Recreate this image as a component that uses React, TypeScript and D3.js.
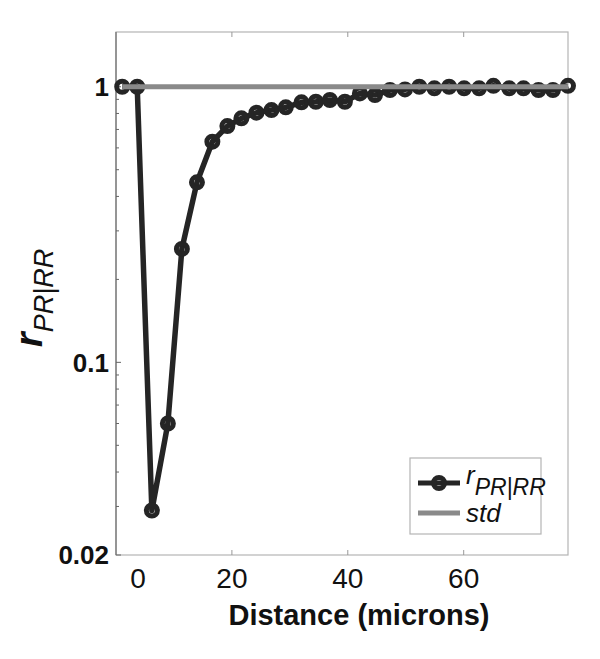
import { useEffect, useRef } from "react";
import * as d3 from "d3";

// distance (microns) and r_PR|RR
const distance = [
  1.07, 3.66, 6.19, 8.95, 11.37, 13.97, 16.63, 19.22, 21.64, 24.24, 26.83,
  29.3, 32.01, 34.49, 36.91, 39.5, 42.09, 44.69, 47.28, 49.87, 52.34, 54.94,
  57.48, 60.07, 62.66, 65.13, 67.85, 70.32, 72.91, 75.4, 78.0,
];
const rValues = [
  1.0, 1.0, 0.029, 0.06, 0.258, 0.45, 0.632, 0.72, 0.768, 0.805, 0.823, 0.842,
  0.878, 0.882, 0.895, 0.882, 0.946, 0.933, 0.973, 0.978, 1.0, 0.987, 1.0,
  0.987, 0.987, 1.008, 0.987, 0.987, 0.973, 0.973, 1.008,
];
const stdValue = 1;
const xTicks = [0, 20, 40, 60];
const yTicks = [0.02, 0.1, 1];
const yMinorTicks = [0.03, 0.04, 0.05, 0.06, 0.07, 0.08, 0.09, 0.2, 0.3, 0.4, 0.5, 0.6, 0.7, 0.8, 0.9];

function RatioChart() {
  const ref = useRef<SVGSVGElement>(null);

  useEffect(() => {
    const width = 600;
    const height = 659;
    const margin = { top: 32, right: 32, bottom: 104, left: 116 };
    const innerW = width - margin.left - margin.right;
    const innerH = height - margin.top - margin.bottom;
    const font = "Liberation Sans, Arial, sans-serif";

    const svg = d3.select(ref.current);
    svg.selectAll("*").remove();

    const g = svg
      .append("g")
      .attr("transform", `translate(${margin.left},${margin.top})`);

    const x = d3.scaleLinear().domain([0, 78]).range([0, innerW]);
    const y = d3.scaleLog().domain([0.02, 1.58]).range([innerH, 0]);

    // box
    g.append("rect")
      .attr("width", innerW)
      .attr("height", innerH)
      .attr("fill", "white")
      .attr("stroke", "#b4b4b4")
      .attr("stroke-width", 1.2);

    // left axis line a bit darker
    g.append("line")
      .attr("y1", 0)
      .attr("y2", innerH)
      .attr("stroke", "#808080")
      .attr("stroke-width", 1.5);

    // x ticks (inward, top and bottom)
    const xt = xTicks.filter((t) => t > 0);
    g.selectAll(".xtb")
      .data(xt)
      .enter()
      .append("line")
      .attr("x1", (d) => x(d))
      .attr("x2", (d) => x(d))
      .attr("y1", innerH)
      .attr("y2", innerH - 5)
      .attr("stroke", "#999");
    g.selectAll(".xtt")
      .data(xt)
      .enter()
      .append("line")
      .attr("x1", (d) => x(d))
      .attr("x2", (d) => x(d))
      .attr("y1", 0)
      .attr("y2", 5)
      .attr("stroke", "#999");

    // x tick labels; the "0" label sits off the y axis like in the source
    g.selectAll(".xl")
      .data(xTicks)
      .enter()
      .append("text")
      .attr("x", (d) => x(d) + (d === 0 ? 22 : 0))
      .attr("y", innerH + 33)
      .attr("text-anchor", "middle")
      .attr("font-family", font)
      .attr("font-size", 28)
      .attr("fill", "#111")
      .text((d) => d3.format("d")(d));

    // y ticks
    g.selectAll(".ytm")
      .data(yTicks)
      .enter()
      .append("line")
      .attr("x1", 0)
      .attr("x2", 5)
      .attr("y1", (d) => y(d))
      .attr("y2", (d) => y(d))
      .attr("stroke", "#666");
    g.selectAll(".ytn")
      .data(yMinorTicks)
      .enter()
      .append("line")
      .attr("x1", 0)
      .attr("x2", 3)
      .attr("y1", (d) => y(d))
      .attr("y2", (d) => y(d))
      .attr("stroke", "#666");

    g.selectAll(".yl")
      .data(yTicks)
      .enter()
      .append("text")
      .attr("x", -7)
      .attr("y", (d) => y(d))
      .attr("dy", "0.36em")
      .attr("text-anchor", "end")
      .attr("font-family", font)
      .attr("font-weight", "bold")
      .attr("font-size", 26)
      .attr("fill", "#111")
      .text((d) => String(d));

    // data line + markers
    const pts = distance.map((d, i) => [d, rValues[i]] as [number, number]);
    const line = d3
      .line<[number, number]>()
      .x((d) => x(d[0]))
      .y((d) => y(d[1]));

    g.append("path")
      .datum(pts)
      .attr("d", line)
      .attr("fill", "none")
      .attr("stroke", "#252525")
      .attr("stroke-width", 5.5)
      .attr("stroke-linejoin", "round");

    g.selectAll(".pt")
      .data(pts)
      .enter()
      .append("circle")
      .attr("cx", (d) => x(d[0]))
      .attr("cy", (d) => y(d[1]))
      .attr("r", 5.5)
      .attr("fill", "none")
      .attr("stroke", "#252525")
      .attr("stroke-width", 5);

    // std line
    g.append("line")
      .attr("x1", x(distance[0]))
      .attr("x2", x(distance[distance.length - 1]))
      .attr("y1", y(stdValue))
      .attr("y2", y(stdValue))
      .attr("stroke", "#8a8a8a")
      .attr("stroke-width", 5);

    // x label
    svg
      .append("text")
      .attr("x", 359)
      .attr("y", 625)
      .attr("text-anchor", "middle")
      .attr("font-family", font)
      .attr("font-weight", "bold")
      .attr("font-size", 29)
      .attr("fill", "#111")
      .text("Distance (microns)");

    // y label
    const yl = svg
      .append("text")
      .attr("transform", "translate(42,298) rotate(-90)")
      .attr("text-anchor", "middle")
      .attr("font-family", font)
      .attr("fill", "#111");
    yl.append("tspan")
      .attr("font-size", 38)
      .attr("font-weight", "bold")
      .attr("font-style", "italic")
      .text("r");
    yl.append("tspan")
      .attr("font-size", 27)
      .attr("font-style", "italic")
      .attr("dy", 11)
      .text("PR|RR");

    // legend
    const lg = svg.append("g").attr("transform", "translate(410,458)");
    lg.append("rect")
      .attr("width", 131)
      .attr("height", 76)
      .attr("fill", "white")
      .attr("stroke", "#b4b4b4")
      .attr("stroke-width", 1.2);
    lg.append("line")
      .attr("x1", 8)
      .attr("x2", 50)
      .attr("y1", 25)
      .attr("y2", 25)
      .attr("stroke", "#252525")
      .attr("stroke-width", 5);
    lg.append("circle")
      .attr("cx", 29)
      .attr("cy", 25)
      .attr("r", 5.5)
      .attr("fill", "none")
      .attr("stroke", "#252525")
      .attr("stroke-width", 5);
    const lt = lg
      .append("text")
      .attr("x", 56)
      .attr("y", 26)
      .attr("font-family", font)
      .attr("font-style", "italic")
      .attr("fill", "#111");
    lt.append("tspan").attr("font-size", 26).text("r");
    lt.append("tspan").attr("font-size", 23).attr("dy", 11).text("PR|RR");
    lg.append("line")
      .attr("x1", 8)
      .attr("x2", 50)
      .attr("y1", 55)
      .attr("y2", 55)
      .attr("stroke", "#8a8a8a")
      .attr("stroke-width", 5);
    lg.append("text")
      .attr("x", 56)
      .attr("y", 64)
      .attr("font-family", font)
      .attr("font-style", "italic")
      .attr("font-size", 26)
      .attr("fill", "#111")
      .text("std");
  }, []);

  return (
    <svg
      ref={ref}
      width={600}
      height={659}
      style={{ position: "absolute", left: 0, top: 0, background: "white" }}
    />
  );
}

export default function App() {
  return <RatioChart />;
}
